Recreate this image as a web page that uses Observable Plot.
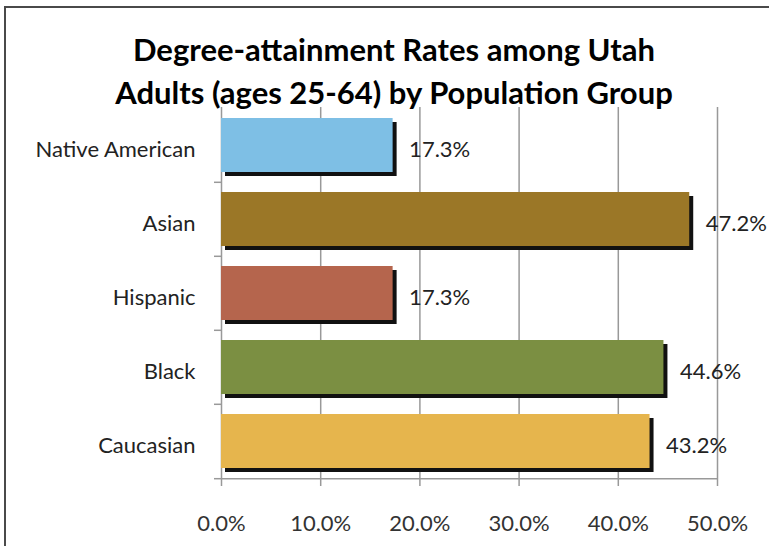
<!DOCTYPE html>
<html><head><meta charset="utf-8">
<script src="https://cdn.jsdelivr.net/npm/d3@7"></script>
<script src="https://cdn.jsdelivr.net/npm/@observablehq/plot@0.6"></script>
<style>
body{margin:0;background:#fff;}
#wrap{position:relative;width:769px;height:546px;overflow:hidden;background:#fff;font-family:Lato,sans-serif;}
#border{position:absolute;left:4px;top:6px;width:900px;height:700px;border:2px solid #4a4a4a;box-sizing:border-box;}
#title{position:relative;z-index:1;height:100px;box-sizing:border-box;padding-top:28px;padding-left:19px;text-align:center;font-weight:bold;font-size:31px;line-height:43px;color:#000;white-space:nowrap;}
#chart{position:absolute;left:0;top:100px;}
</style></head><body>
<div id="wrap"><div id="border"></div><div id="title">Degree-attainment Rates among Utah<br>Adults (ages 25-64) by Population Group</div><div id="chart"></div></div>
<script>
const categories = ["Native American","Asian","Hispanic","Black","Caucasian"];
const values = [17.3,47.2,17.3,44.6,43.2];
const colors = ["#7EBFE5","#9B7727","#B5654D","#7B8F42","#E6B54D"];
const xTicks = [0,10,20,30,40,50];
const data = categories.map((c,i)=>({category:c,value:values[i]}));
const W=769,H=446,mT=7,mB=67,mL=221,mR=52;
const half = (H-mT-mB)/categories.length/2;
const fmt = d=>d.toFixed(1)+"%";
const last = categories[categories.length-1];
const plot = Plot.plot({
  width:W,height:H,marginTop:mT,marginBottom:mB,marginLeft:mL,marginRight:mR,
  style:{fontFamily:"Lato, sans-serif",fontSize:"22px",color:"#222",background:"transparent",overflow:"visible"},
  x:{domain:[0,50],label:null},
  y:{domain:categories,paddingInner:0.27,paddingOuter:0.135,label:null},
  color:{domain:categories,range:colors},
  marks:[
    Plot.gridX(xTicks,{stroke:"#999",strokeOpacity:1,strokeWidth:1.5}),
    Plot.ruleY([last],{dy:half,stroke:"#999",strokeWidth:1.5}),
    Plot.axisY(categories.slice(1),{tickSize:7,tickFormat:()=>"",dy:-half,stroke:"#999",strokeWidth:1.5}),
    Plot.axisY([last],{tickSize:7,tickFormat:()=>"",dy:half,stroke:"#999",strokeWidth:1.5}),
    Plot.axisY({tickSize:0,tickPadding:26,dy:4,fill:"#222"}),
    Plot.axisX(xTicks,{tickSize:7,tickPadding:29,tickFormat:fmt,stroke:"#999",strokeWidth:1.5,fill:"#333"}),
    Plot.barX(data,{x:"value",y:"category",fill:"#111",dx:4,dy:4}),
    Plot.barX(data,{x:"value",y:"category",fill:"category"}),
    Plot.text(data,{x:"value",y:"category",text:d=>fmt(d.value),textAnchor:"start",dx:16,dy:4,fill:"#222"})
  ]
});
document.getElementById("chart").appendChild(plot);
</script>
</body></html>
